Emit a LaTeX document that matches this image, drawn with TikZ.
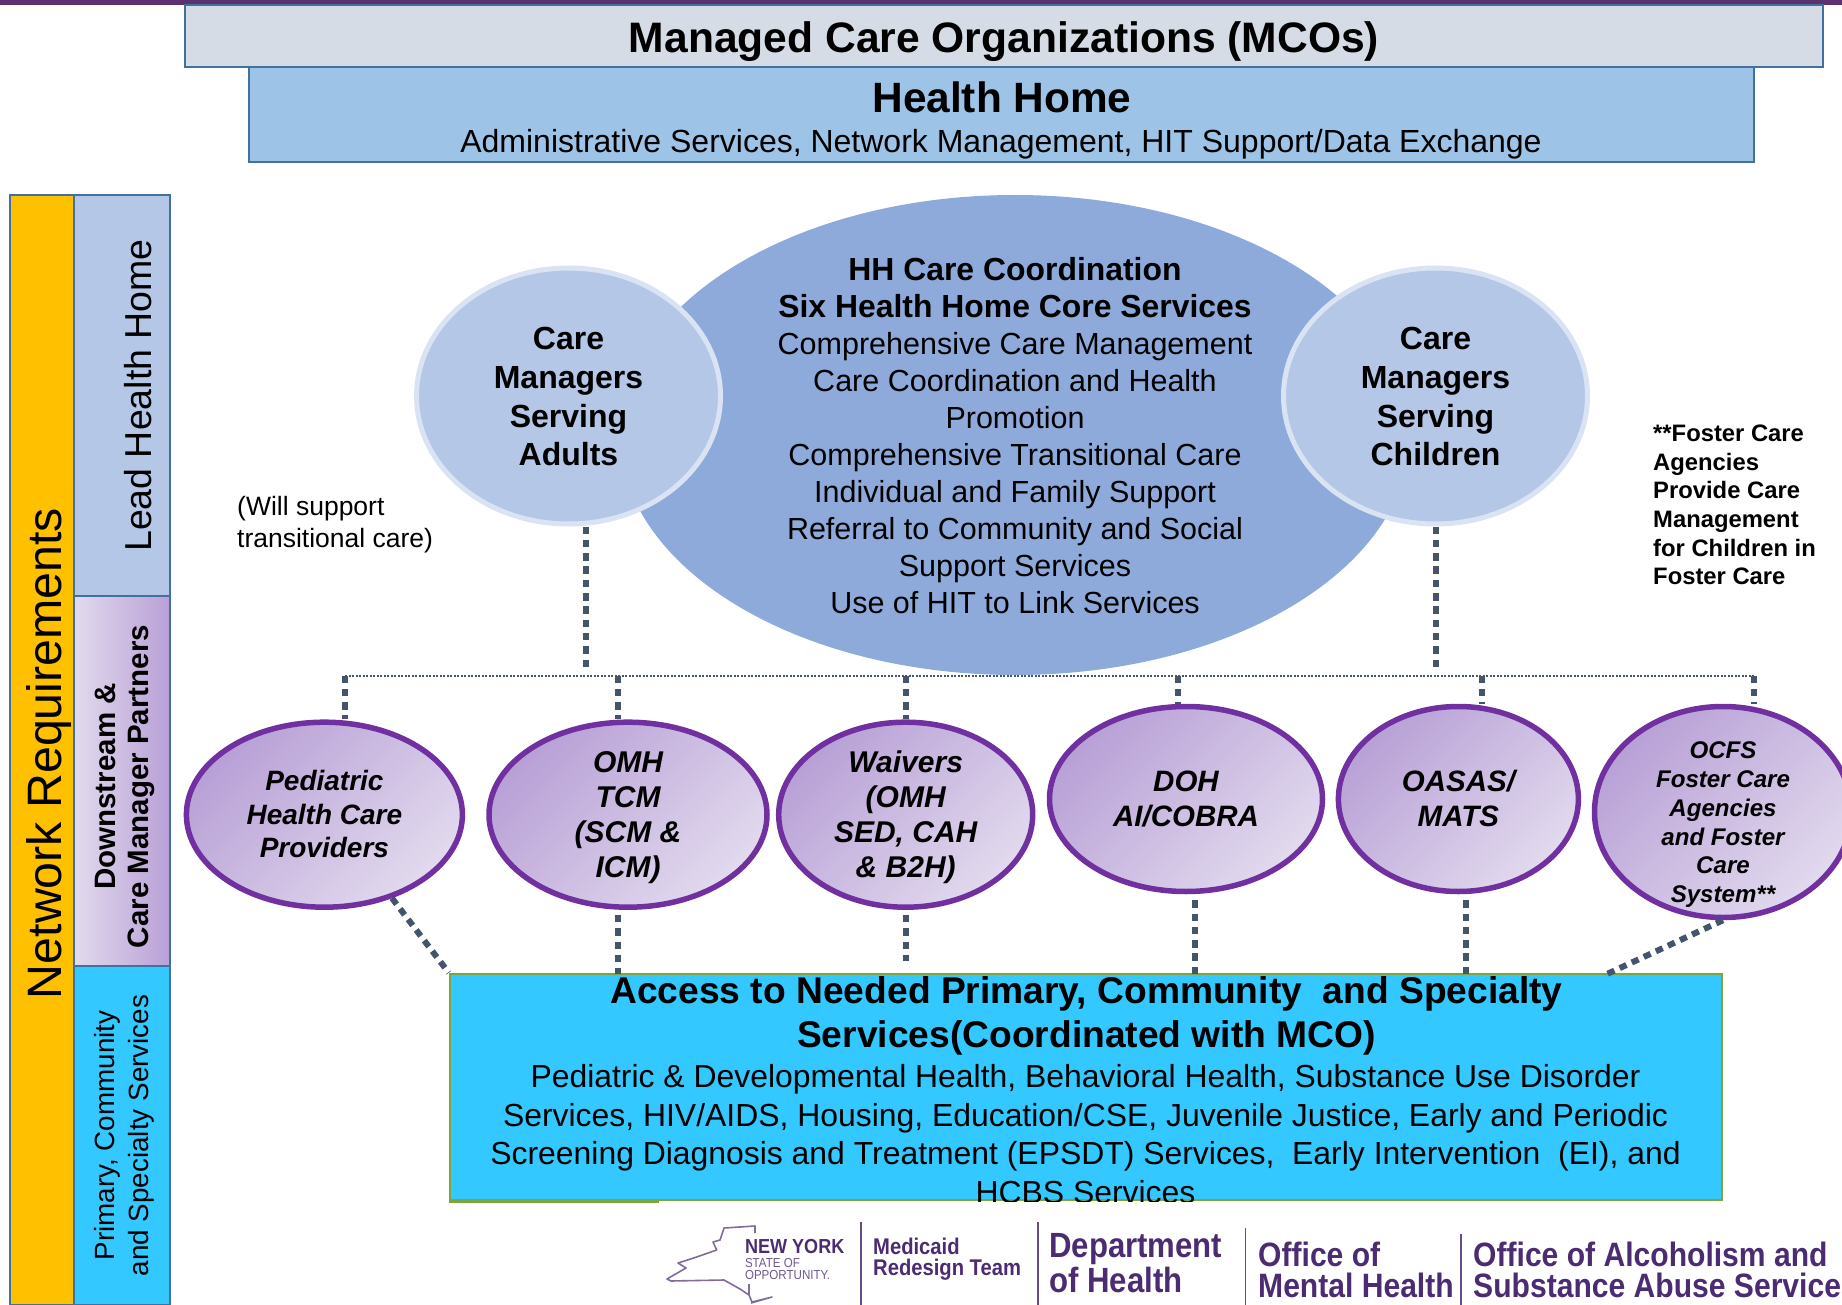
\documentclass[tikz,border=0pt]{standalone}
\usepackage{fontspec}
\usepackage{array}
\setmainfont{Liberation Sans}
\newfontfamily\rotf{Liberation Sans}
\newfontfamily\logof[FakeStretch=0.89]{Liberation Sans}
\usetikzlibrary{shapes.geometric,calc}
\definecolor{frameblue}{HTML}{41719C}
\definecolor{mcogray}{HTML}{D6DCE5}
\definecolor{hhblue}{HTML}{9DC3E6}
\definecolor{leadblue}{HTML}{B4C7E7}
\definecolor{bigblue}{HTML}{8EAADB}
\definecolor{ringblue}{HTML}{DAE3F3}
\definecolor{gold}{HTML}{FFC000}
\definecolor{skyfill}{HTML}{33C8FF}
\definecolor{greenline}{HTML}{7AA63A}
\definecolor{purpleline}{HTML}{7030A0}
\definecolor{purpledark}{HTML}{B8A0D6}
\definecolor{purplelight}{HTML}{E2DAEE}
\definecolor{slatedash}{HTML}{44546A}
\definecolor{logopurple}{HTML}{4B2C72}
\definecolor{topbar}{HTML}{5B3270}
\newcommand\ztxt[1]{\raisebox{-.64em}{\smash{\makebox[0pt]{\begin{tabular}[c]{@{}c@{}}#1\end{tabular}}}}}
\newcommand\fsz[2]{\fontsize{#1}{#2}\selectfont}
\tikzset{
  x=1pt,y=-1pt,
  framed/.style={rectangle,draw=frameblue,line width=2.5pt,inner sep=0pt},
  bar/.style={framed,rotate=90,align=center},
  pur/.style={ellipse,draw=purpleline,line width=5.5pt,inner sep=0pt,
    top color=purpledark,bottom color=purplelight,shading angle=45,
    font=\bfseries\itshape\fsz{28}{33.5}},
  circ/.style={ellipse,draw=ringblue,line width=5pt,fill=leadblue,inner sep=0pt,
    font=\bfseries\fsz{32}{38.6}},
  conn/.style={draw=slatedash,line width=6pt,dash pattern=on 7.5pt off 5.8pt},
  bus/.style={draw=slatedash,line width=2pt,dash pattern=on 2pt off 1.5pt},
  sep/.style={draw=logopurple!85,line width=1.5pt},
  logo/.style={anchor=west,inner sep=0pt,text=logopurple,font=\logof\bfseries},
  plain/.style={inner sep=0pt,align=center},
}
\begin{document}
\begin{tikzpicture}
\useasboundingbox (0,0) rectangle (1842,1305);
\clip (0,0) rectangle (1842,1305);
% top
\fill[topbar] (0,0) rectangle (1842,5);
\node[framed,fill=mcogray,minimum width=1638pt,minimum height=62pt,font=\bfseries\fsz{42.6}{46}] (mco) at (1004,36) {\ztxt{Managed Care Organizations (MCOs)}};
\node[framed,fill=hhblue,minimum width=1505pt,minimum height=95pt] (hh) at (1001.5,114.5) {};
\node[plain,font=\bfseries\fsz{42.4}{46}] (hhtitle) at (1002,97.5) {Health Home};
\node[plain,font=\fsz{32}{38}] (hhsub) at (1001,144) {Administrative Services, Network Management, HIT Support/Data Exchange};
% side bars
\node[bar,fill=gold,minimum width=1110pt,minimum height=64pt,font=\rotf\fsz{48.3}{52}] (net) at (42,750) {\raisebox{6.8pt}{\hspace{-3.5pt}\ztxt{Network Requirements}\hspace{3.5pt}}};
\node[bar,fill=leadblue,minimum width=401pt,minimum height=96pt,font=\rotf\fsz{37.5}{42}] (lead) at (122,395.5) {\raisebox{-31pt}{\ztxt{Lead Health Home}}};
\node[bar,left color=purplelight,right color=purpledark,minimum width=370pt,minimum height=96pt,font=\rotf\bfseries\fsz{29.5}{33}] (down) at (122,781) {\hspace{-5.5pt}\ztxt{Downstream \&\\Care Manager Partners}\hspace{5.5pt}};
\node[bar,fill=skyfill,minimum width=339pt,minimum height=96pt,font=\rotf\fsz{27.8}{34}] (prim) at (122,1135.5) {\ztxt{Primary, Community\\and Specialty Services}};
% centre
\node[ellipse,fill=bigblue,minimum width=790pt,minimum height=480pt,inner sep=0pt,font=\fsz{30.5}{37}] (core) at (1015,435) {\raisebox{-2.5pt}{\ztxt{{\bfseries\fsz{31.9}{37}HH Care Coordination}\\{\bfseries\fsz{31.9}{37}Six Health Home Core Services}\\Comprehensive Care Management\\Care Coordination and Health\\Promotion\\Comprehensive Transitional Care\\Individual and Family Support\\Referral to Community and Social\\Support Services\\Use of HIT to Link Services}}};
\node[circ,minimum width=304pt,minimum height=256pt] (careA) at (568.5,396) {\ztxt{Care\\Managers\\Serving\\Adults}};
\node[circ,minimum width=304pt,minimum height=256pt] (careC) at (1435.5,396) {\ztxt{Care\\Managers\\Serving\\Children}};
\node[plain,anchor=west,align=left,font=\fsz{26.5}{31.7}] (support) at (237,524.5) {(Will support\\transitional care)};
\node[plain,anchor=west,align=left,font=\bfseries\fsz{23.8}{28.7}] (foster) at (1653,505) {**Foster Care\\Agencies\\Provide Care\\Management\\for Children in\\Foster Care};
% purple nodes
\node[pur,minimum width=276pt,minimum height=185pt] (ped) at (324.4,814.7) {\ztxt{Pediatric\\Health Care\\Providers}};
\node[pur,minimum width=278pt,minimum height=185pt,font=\bfseries\itshape\fsz{30}{35}] (omh) at (628,814.7) {\ztxt{OMH\\TCM\\(SCM \&\\ICM)}};
\node[pur,minimum width=254pt,minimum height=185pt,font=\bfseries\itshape\fsz{30}{35}] (wai) at (905.7,814.7) {\ztxt{Waivers\\(OMH\\SED, CAH\\\& B2H)}};
\node[pur,minimum width=273pt,minimum height=185pt,font=\bfseries\itshape\fsz{29.5}{35}] (doh) at (1186,799) {\ztxt{DOH\\AI/COBRA}};
\node[pur,minimum width=240pt,minimum height=185pt,font=\bfseries\itshape\fsz{29.5}{35}] (oasas) at (1458.4,799) {\ztxt{OASAS/\\MATS}};
\node[pur,minimum width=257pt,minimum height=211pt,font=\bfseries\itshape\fsz{24.1}{28.7}] (ocfs) at (1723,812) {\raisebox{-23pt}{\ztxt{OCFS\\Foster Care\\Agencies\\and Foster\\Care\\System**}}};
% access box
\node[rectangle,draw=greenline,fill=skyfill,line width=2.5pt,inner sep=0pt,minimum width=1272pt,minimum height=226pt] (acc) at (1086,1087) {};
\begin{scope}
\clip (acc.north west) rectangle (acc.south east);
\node[plain,font=\bfseries\fsz{37.2}{44.6}] (acchead) at (1086.5,1016) {Access to Needed Primary, Community~ and Specialty\\Services(Coordinated with MCO)};
\node[plain,font=\fsz{31.9}{38.8}] (accbody) at (1085.5,1134) {Pediatric \& Developmental Health, Behavioral Health, Substance Use Disorder\\Services, HIV/AIDS, Housing, Education/CSE, Juvenile Justice, Early and Periodic\\Screening Diagnosis and Treatment (EPSDT) Services,~ Early Intervention~ (EI), and\\HCBS Services};
\end{scope}
\draw[draw=greenline,line width=3.5pt] (acc.south west) -- ++(210,0) coordinate (accnote);
% connectors
\coordinate (b1) at (345.4,675.5);
\coordinate (b2) at (618,675.5);
\coordinate (b3) at (905.7,675.5);
\coordinate (b4) at (1178,675.5);
\coordinate (b5) at (1482.4,675.5);
\coordinate (b6) at (1754,675.5);
\draw[bus] (b1) -- (b6);
\draw[conn] (b1) -- (b1 |- ped.north);
\draw[conn] (b2) -- (b2 |- omh.north);
\draw[conn] (b3) -- (b3 |- wai.north);
\draw[conn] (b4) -- (b4 |- doh.north);
\draw[conn] (b5) -- (b5 |- oasas.north);
\draw[conn] (b6) -- (b6 |- ocfs.north);
\coordinate (u1) at (586,669);
\coordinate (u2) at (1435.5,669);
\draw[conn] (u1 |- careA.south) -- (u1);
\draw[conn] (careC.south) -- (u2);
\coordinate (d1) at (618,974);
\coordinate (d2) at (905.7,961);
\coordinate (d3) at (1194.7,974);
\coordinate (d4) at (1466,974);
\coordinate (d5) at (1607,974);
\draw[conn] ([yshift=-5pt]omh.south -| d1) -- (d1);
\draw[conn] ([yshift=-5pt]wai.south -| d2) -- (d2);
\draw[conn] ([yshift=-6pt]doh.south -| d3) -- (d3);
\draw[conn] ([yshift=-6pt]oasas.south -| d4) -- (d4);
\draw[conn] (ped.-51) -- (acc.north west);
\draw[conn] (ocfs.south) -- (d5);
% logos
\draw[draw=logopurple!70,line width=1.6pt,line join=round] (755,1233) -- (755,1226) -- (724,1228) -- (720,1240) -- (713,1242) -- (716.7,1250) -- (693.7,1258) -- (678,1263) -- (686,1268) -- (667,1279) -- (671,1281) -- (724,1280) -- (740,1289) -- (749,1295) -- (752,1302) -- (772,1297) -- (751,1303);
\draw[draw=logopurple!70,line width=1.2pt] (749,1284) -- (749,1295);
\node[logo,font=\logof\bfseries\fsz{20.3}{24}] (ny1) at (744.8,1246.5) {NEW YORK};
\node[logo,font=\logof\fsz{13}{15},text=logopurple!80] (ny2) at (744.8,1263) {STATE OF};
\node[logo,font=\logof\fsz{13}{15},text=logopurple!80] (ny3) at (744.8,1275) {OPPORTUNITY.};
\coordinate (s1t) at (861,1222); \coordinate (s1b) at (861,1305);
\coordinate (s2t) at (1038,1222); \coordinate (s2b) at (1038,1305);
\coordinate (s3t) at (1245.5,1228); \coordinate (s3b) at (1245.5,1305);
\coordinate (s4t) at (1461,1234); \coordinate (s4b) at (1461,1305);
\draw[sep] (s1t) -- (s1b);
\draw[sep] (s2t) -- (s2b);
\draw[sep] (s3t) -- (s3b);
\draw[sep] (s4t) -- (s4b);
\node[logo,font=\logof\bfseries\fsz{22.7}{28}] (m1) at (873,1246.5) {Medicaid};
\node[logo,font=\logof\bfseries\fsz{22.7}{28}] (m2) at (873,1270) {Redesign Team};
\node[logo,font=\logof\bfseries\fsz{35}{40}] (d1t) at (1049,1249) {Department};
\node[logo,font=\logof\bfseries\fsz{35}{40}] (d2t) at (1049,1280) {of Health};
\node[logo,font=\logof\bfseries\fsz{33.8}{40}] (o1) at (1258,1254) {Office of};
\node[logo,font=\logof\bfseries\fsz{33.8}{40}] (o2) at (1258,1285) {Mental Health};
\node[logo,font=\logof\bfseries\fsz{33.8}{40}] (a1) at (1473,1254) {Office of Alcoholism and};
\node[logo,font=\logof\bfseries\fsz{33.8}{40}] (a2) at (1473,1285) {Substance Abuse Services};
\end{tikzpicture}
\end{document}
